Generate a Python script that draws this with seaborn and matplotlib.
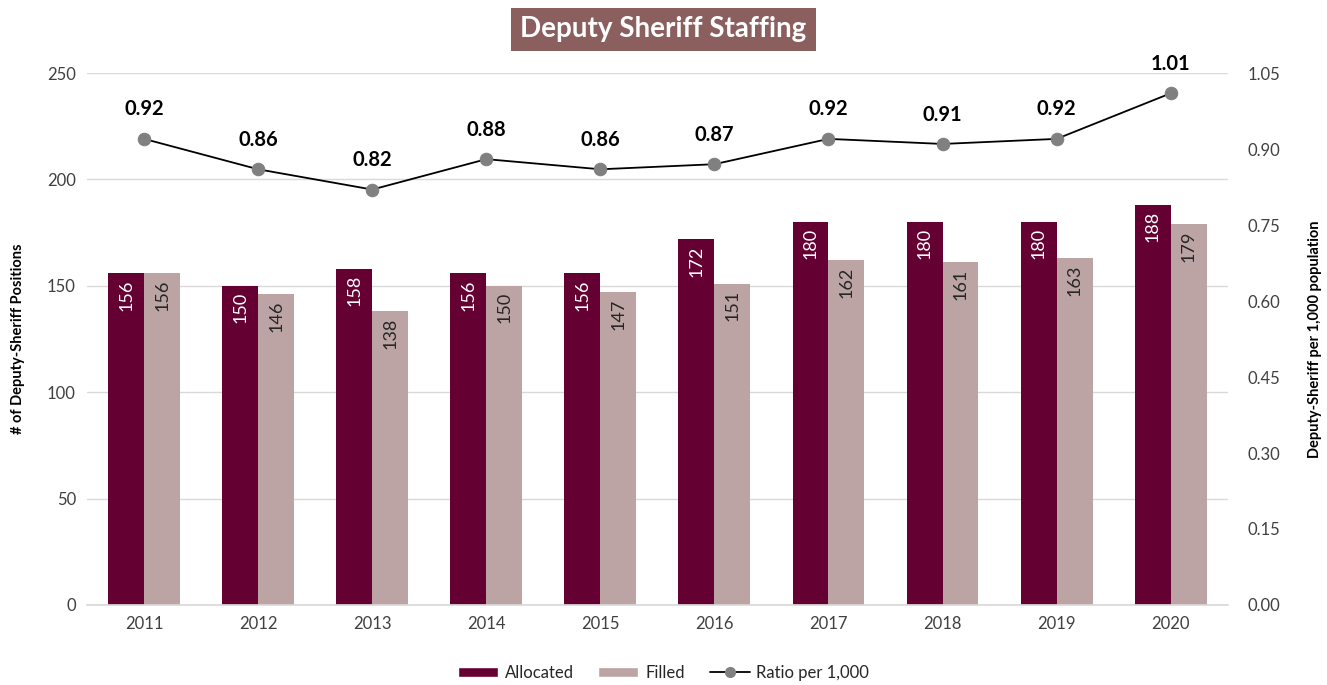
import matplotlib
matplotlib.use("Agg")
import matplotlib.pyplot as plt
import seaborn as sns
import pandas as pd
from matplotlib.lines import Line2D
from matplotlib.patches import Patch

years = ["2011", "2012", "2013", "2014", "2015", "2016", "2017", "2018", "2019", "2020"]
allocated = [156, 150, 158, 156, 156, 172, 180, 180, 180, 188]
filled = [156, 146, 138, 150, 147, 151, 162, 161, 163, 179]
ratio = [0.92, 0.86, 0.82, 0.88, 0.86, 0.87, 0.92, 0.91, 0.92, 1.01]

ALLOC_C = "#650033"
FILL_C = "#BCA4A4"
TITLE_C = "#8C5F5F"

sns.set_theme(style="white")
plt.rcParams["font.family"] = ["Lato", "DejaVu Sans"]

df = pd.DataFrame({
    "Year": years * 2,
    "Positions": allocated + filled,
    "Type": ["Allocated"] * len(years) + ["Filled"] * len(years),
})

fig = plt.figure(figsize=(13.27, 6.85), dpi=100)
ax = fig.add_axes([0.0656, 0.1168, 0.8596, 0.7766])

sns.barplot(data=df, x="Year", y="Positions", hue="Type",
            palette=[ALLOC_C, FILL_C], width=0.63, gap=0,
            saturation=1, ax=ax, legend=False, edgecolor="none")
ax.set_xlim(-0.5, 9.5)
ax.set_ylim(0, 250)
ax.set_yticks(range(0, 251, 50))
ax.yaxis.grid(True, color="#D9D9D9", linewidth=1)
ax.set_axisbelow(True)
for s in ["top", "right", "left"]:
    ax.spines[s].set_visible(False)
ax.spines["bottom"].set_color("#D9D9D9")
ax.tick_params(axis="both", length=0, labelsize=12, colors="#404040", pad=8)
ax.set_xlabel("")
ax.set_ylabel("# of Deputy-Sheriff Positions", fontsize=10.5, fontweight="bold",
              color="black", labelpad=16)

for i, container in enumerate(ax.containers):
    color = "white" if i == 0 else "#262626"
    for bar in container:
        h = bar.get_height()
        ax.text(bar.get_x() + bar.get_width() / 2, h - 3, f"{int(round(h))}",
                rotation=90, ha="center", va="top", fontsize=13, color=color)

ax2 = ax.twinx()
sns.lineplot(x=list(range(len(years))), y=ratio, ax=ax2, color="black",
             linewidth=1.3, marker="o", markersize=9, markerfacecolor="#808080",
             markeredgecolor="#808080", legend=False)
ax2.set_ylim(0, 1.05)
ax2.set_yticks([0, 0.15, 0.30, 0.45, 0.60, 0.75, 0.90, 1.05])
ax2.set_yticklabels([f"{v:.2f}" for v in ax2.get_yticks()])
ax2.set_xlim(-0.5, 9.5)
for s in ["top", "right", "left", "bottom"]:
    ax2.spines[s].set_visible(False)
ax2.tick_params(axis="y", length=0, labelsize=12, colors="#404040", pad=14)
ax2.set_ylabel("Deputy-Sheriff per 1,000 population", fontsize=10.5,
               fontweight="bold", color="black", labelpad=20)
for i, v in enumerate(ratio):
    ax2.annotate(f"{v:.2f}", (i, v), xytext=(0, 14), textcoords="offset points",
                 ha="center", va="bottom", fontsize=14.5, fontweight="bold", color="black")

fig.text(0.5, 0.957, "Deputy Sheriff Staffing", ha="center", va="center",
         fontsize=20, fontweight="bold", color="white",
         bbox=dict(boxstyle="square,pad=0.32", facecolor=TITLE_C, edgecolor="none"))

handles = [Patch(facecolor=ALLOC_C, label="Allocated"),
           Patch(facecolor=FILL_C, label="Filled"),
           Line2D([0], [0], color="black", linewidth=1.3, marker="o", markersize=7,
                  markerfacecolor="#808080", markeredgecolor="#808080",
                  label="Ratio per 1,000")]
fig.legend(handles=handles, loc="center", bbox_to_anchor=(0.5, 0.018), ncol=3,
           frameon=False, fontsize=12, handlelength=2.4, handleheight=0.6,
           columnspacing=1.5, handletextpad=0.4)

fig.savefig("out.png", dpi=100)
